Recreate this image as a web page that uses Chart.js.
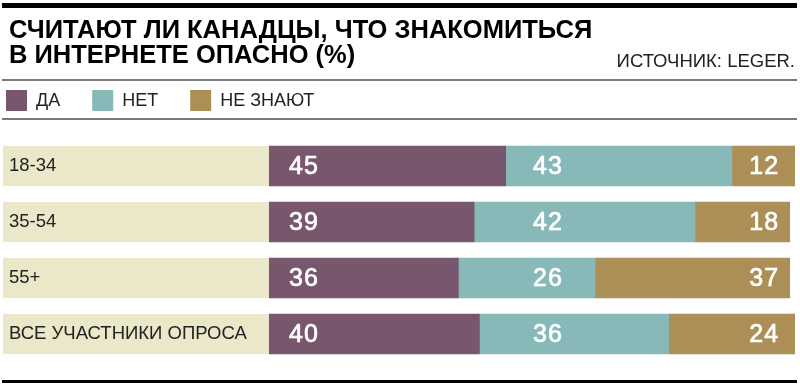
<!DOCTYPE html>
<html>
<head>
<meta charset="utf-8">
<script src="https://cdn.jsdelivr.net/npm/chart.js@4.4.1/dist/chart.umd.min.js"></script>
<style>
  html, body { margin: 0; padding: 0; background: #fff; }
  #wrap { width: 800px; height: 387px; }
</style>
</head>
<body>
<div id="wrap"><canvas id="chart"></canvas></div>
<script>
const categories = ["18-34", "35-54", "55+", "ВСЕ УЧАСТНИКИ ОПРОСА"];
const seriesNames = ["ДА", "НЕТ", "НЕ ЗНАЮТ"];
const yesValues = [45, 39, 36, 40];
const noValues = [43, 42, 26, 36];
const dontKnowValues = [12, 18, 37, 24];

const titleLines = ["СЧИТАЮТ ЛИ КАНАДЦЫ, ЧТО ЗНАКОМИТЬСЯ", "В ИНТЕРНЕТЕ ОПАСНО (%)"];
const sourceText = "ИСТОЧНИК: LEGER.";

const FONT = "'Liberation Sans', Arial, sans-serif";
const colors = ["#77566e", "#87b9b9", "#ab8f56"];
const beige = "#eae8c8";

// where the value labels sit on each segment (x value + alignment)
const labelAnchors = [
  {v: 3.8, align: "left"},
  {v: 50.2, align: "left"},
  {v: 96.8, align: "right"},
];

const decorPlugin = {
  id: "decor",
  beforeDraw(chart) {
    const ctx = chart.ctx;
    const area = chart.chartArea;
    ctx.save();
    // rules
    ctx.fillStyle = "#000";
    ctx.fillRect(2, 3, 795, 5);
    ctx.fillRect(2, 380, 795, 3);
    ctx.fillStyle = "#7a7a7a";
    ctx.fillRect(2, 79, 795, 2);
    ctx.fillRect(2, 118, 795, 2);

    // source
    ctx.fillStyle = "#222";
    ctx.font = "18.5px " + FONT;
    ctx.textAlign = "right";
    ctx.textBaseline = "alphabetic";
    ctx.fillText(sourceText, 795, 67);

    // legend
    let x = 6;
    ctx.font = "18px " + FONT;
    ctx.textAlign = "left";
    ctx.textBaseline = "middle";
    chart.data.datasets.forEach((ds) => {
      ctx.fillStyle = ds.backgroundColor;
      ctx.fillRect(x, 90, 21, 21);
      ctx.fillStyle = "#222";
      ctx.fillText(ds.label, x + 30, 101);
      x += 30 + ctx.measureText(ds.label).width + 32;
    });

    // beige label panels behind category names
    const meta = chart.getDatasetMeta(0);
    ctx.fillStyle = beige;
    meta.data.forEach((bar) => {
      const h = bar.height;
      ctx.fillRect(3, bar.y - h / 2, area.left - 3, h);
    });
    ctx.restore();
  },
  afterDatasetsDraw(chart) {
    const ctx = chart.ctx;
    const xScale = chart.scales.x;
    ctx.save();
    ctx.fillStyle = "#fff";
    ctx.strokeStyle = "#fff";
    ctx.lineWidth = 0.7;
    ctx.font = "25px " + FONT;
    ctx.letterSpacing = "1px";
    ctx.textBaseline = "middle";
    chart.data.datasets.forEach((ds, di) => {
      const meta = chart.getDatasetMeta(di);
      const anchor = labelAnchors[di];
      meta.data.forEach((bar, i) => {
        ctx.textAlign = anchor.align;
        const px = xScale.getPixelForValue(anchor.v) + (anchor.align === "right" ? 1 : 0);
        const txt = String(ds.data[i]);
        ctx.fillText(txt, px, bar.y + 1);
        ctx.strokeText(txt, px, bar.y + 1);
      });
    });
    ctx.restore();
  },
};

new Chart(document.getElementById("chart"), {
  type: "bar",
  data: {
    labels: categories,
    datasets: [
      {label: seriesNames[0], data: yesValues, backgroundColor: colors[0]},
      {label: seriesNames[1], data: noValues, backgroundColor: colors[1]},
      {label: seriesNames[2], data: dontKnowValues, backgroundColor: colors[2]},
    ],
  },
  options: {
    indexAxis: "y",
    responsive: true,
    maintainAspectRatio: false,
    animation: false,
    barThickness: 40,
    borderWidth: 0,
    layout: {padding: {left: 9, right: 5, top: 0, bottom: 25}},
    scales: {
      x: {stacked: true, min: 0, max: 100, display: false},
      y: {
        stacked: true,
        afterFit(scale) {
          scale.width = 260;
        },
        grid: {display: false, drawTicks: false},
        border: {display: false},
        ticks: {
          crossAlign: "far",
          color: "#222",
          font: {family: FONT, size: 18.5},
          z: 1,
        },
      },
    },
    plugins: {
      legend: {display: false},
      tooltip: {enabled: false},
      title: {
        display: true,
        text: titleLines,
        align: "start",
        color: "#000",
        font: {family: FONT, size: 25.5, weight: "bold", lineHeight: 25 / 25.5},
        padding: {top: 18, bottom: 70},
      },
    },
  },
  plugins: [decorPlugin],
});
</script>
</body>
</html>
